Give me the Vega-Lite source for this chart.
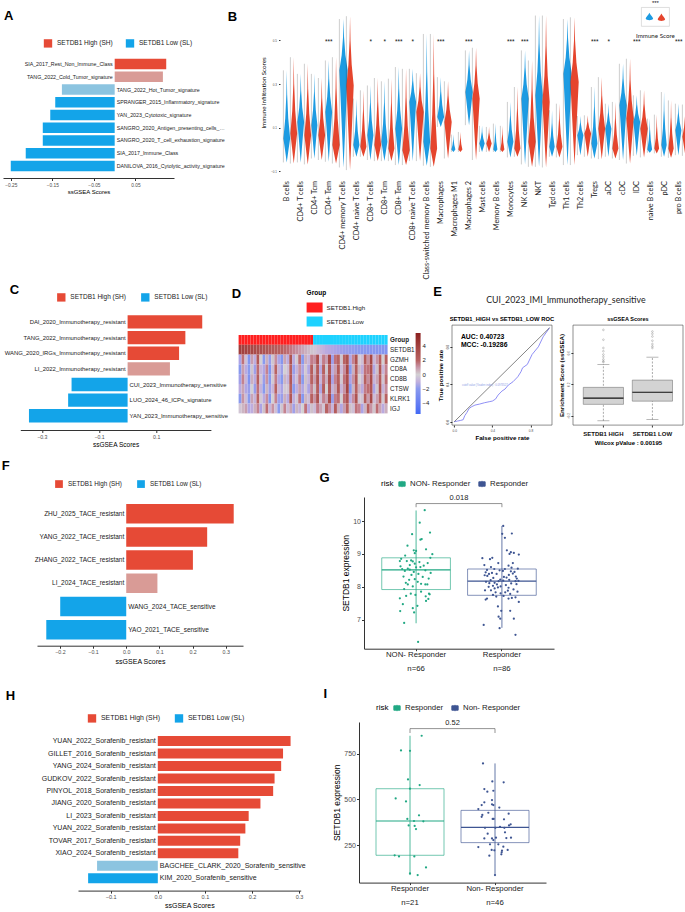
{
"$schema": "https://vega.github.io/schema/vega-lite/v6.json",
"padding": {"left": 0, "top": 0, "right": 0, "bottom": 0},
"background": "white",
"config": {
  "font": "Liberation Sans",
  "view": {"stroke": null},
  "title": {"fontSize": 13, "fontWeight": "bold", "anchor": "start", "frame": "bounds", "color": "#000", "offset": 4},
  "axis": {"labelColor": "#4D4D4D", "titleColor": "#000", "domainColor": "#333", "tickColor": "#333", "grid": false, "titleFontWeight": "normal"},
  "legend": {"labelColor": "#1a1a1a"}
},
"datasets": {
  "A": [
    {"r":1,"name":"SIA_2017_Rest_Non_Immune_Class","score":0.124,"grp":"SETDB1 High (SH)"},
    {"r":2,"name":"TANG_2022_Cold_Tumor_signature","score":0.116,"grp":"High ns"},
    {"r":3,"name":"TANG_2022_Hot_Tumor_signature","score":-0.127,"grp":"Low ns"},
    {"r":4,"name":"SPRANGER_2015_Inflammatory_signature","score":-0.143,"grp":"SETDB1 Low (SL)"},
    {"r":5,"name":"YAN_2023_Cytotoxic_signature","score":-0.155,"grp":"SETDB1 Low (SL)"},
    {"r":6,"name":"SANGRO_2020_Antigen_presenting_cells_signature","score":-0.173,"grp":"SETDB1 Low (SL)"},
    {"r":7,"name":"SANGRO_2020_T_cell_exhaustion_signature","score":-0.173,"grp":"SETDB1 Low (SL)"},
    {"r":8,"name":"SIA_2017_Immune_Class","score":-0.214,"grp":"SETDB1 Low (SL)"},
    {"r":9,"name":"DANILOVA_2016_Cytolytic_activity_signature","score":-0.25,"grp":"SETDB1 Low (SL)"}
  ],
  "C": [
    {"r":1,"name":"DAI_2020_Immunotherapy_resistant","score":0.261,"grp":"SETDB1 High (SH)"},
    {"r":2,"name":"TANG_2022_Immunotherapy_resistant","score":0.202,"grp":"SETDB1 High (SH)"},
    {"r":3,"name":"WANG_2020_IRGs_Immunotherapy_resistant","score":0.18,"grp":"SETDB1 High (SH)"},
    {"r":4,"name":"LI_2022_Immunotherapy_resistant","score":0.148,"grp":"High ns"},
    {"r":5,"name":"CUI_2023_Immunotherapy_sensitive","score":-0.196,"grp":"SETDB1 Low (SL)"},
    {"r":6,"name":"LUO_2024_46_ICPs_signature","score":-0.208,"grp":"SETDB1 Low (SL)"},
    {"r":7,"name":"YAN_2023_Immunotherapy_sensitive","score":-0.345,"grp":"SETDB1 Low (SL)"}
  ],
  "F": [
    {"r":1,"name":"ZHU_2025_TACE_resistant","score":0.324,"grp":"SETDB1 High (SH)"},
    {"r":2,"name":"YANG_2022_TACE_resistant","score":0.244,"grp":"SETDB1 High (SH)"},
    {"r":3,"name":"ZHANG_2022_TACE_resistant","score":0.201,"grp":"SETDB1 High (SH)"},
    {"r":4,"name":"LI_2024_TACE_resistant","score":0.094,"grp":"High ns"},
    {"r":5,"name":"WANG_2024_TACE_sensitive","score":-0.199,"grp":"SETDB1 Low (SL)"},
    {"r":6,"name":"YAO_2021_TACE_sensitive","score":-0.241,"grp":"SETDB1 Low (SL)"}
  ],
  "H": [
    {"r":1,"name":"YUAN_2022_Sorafenib_resistant","score":0.282,"grp":"SETDB1 High (SH)"},
    {"r":2,"name":"GILLET_2016_Sorafenib_resistant","score":0.266,"grp":"SETDB1 High (SH)"},
    {"r":3,"name":"YANG_2024_Sorafenib_resistant","score":0.262,"grp":"SETDB1 High (SH)"},
    {"r":4,"name":"GUDKOV_2022_Sorafenib_resistant","score":0.248,"grp":"SETDB1 High (SH)"},
    {"r":5,"name":"PINYOL_2018_Sorafenib_resistant","score":0.245,"grp":"SETDB1 High (SH)"},
    {"r":6,"name":"JIANG_2020_Sorafenib_resistant","score":0.218,"grp":"SETDB1 High (SH)"},
    {"r":7,"name":"LI_2023_Sorafenib_resistant","score":0.193,"grp":"SETDB1 High (SH)"},
    {"r":8,"name":"YUAN_2022_Sorafenib_resistant","score":0.186,"grp":"SETDB1 High (SH)"},
    {"r":9,"name":"TOVAR_2017_Sorafenib_resistant","score":0.175,"grp":"SETDB1 High (SH)"},
    {"r":10,"name":"XIAO_2024_Sorafenib_resistant","score":0.171,"grp":"SETDB1 High (SH)"},
    {"r":11,"name":"BAGCHEE_CLARK_2020_Sorafenib_sensitive","score":-0.129,"grp":"Low ns"},
    {"r":12,"name":"KIM_2020_Sorafenib_sensitive","score":-0.148,"grp":"SETDB1 Low (SL)"}
  ],
  "B": [
    {"k":"01|a|B cells","g":"Low","v":[-0.059,-0.005,0.05,0.143,0.252,0.361],"d":[0,3.3,6.7,3,0.8,0]},
    {"k":"01|b|B cells","g":"High","v":[-0.064,0.005,0.073,0.177,0.299,0.421],"d":[0,3.3,6.7,3,0.8,0]},
    {"k":"02|a|CD4+ T cells","g":"Low","v":[-0.059,0.034,0.126,0.192,0.268,0.345],"d":[0,3.3,6.7,3,0.8,0]},
    {"k":"02|b|CD4+ T cells","g":"High","v":[-0.068,-0.002,0.065,0.163,0.277,0.391],"d":[0,3.3,6.7,3,0.8,0]},
    {"k":"03|a|CD4+ Tcm","g":"Low","v":[-0.041,0.035,0.111,0.181,0.263,0.345],"d":[0,3,6,2.7,0.7,0]},
    {"k":"03|b|CD4+ Tcm","g":"High","v":[-0.048,0.009,0.065,0.143,0.235,0.326],"d":[0,3.3,6.7,3,0.8,0]},
    {"k":"04|a|CD4+ Tem","g":"Low","v":[-0.056,0.058,0.171,0.242,0.324,0.406],"d":[0,3.3,6.7,3,0.8,0],"s":"***"},
    {"k":"04|b|CD4+ Tem","g":"High","v":[-0.064,-0.022,0.02,0.14,0.281,0.421],"d":[0,3.7,7.3,3.3,0.9,0]},
    {"k":"05|a|CD4+ memory T cells","g":"Low","v":[-0.082,0.14,0.361,0.431,0.513,0.595],"d":[0,4.2,8.3,3.7,1,0]},
    {"k":"05|b|CD4+ memory T cells","g":"High","v":[-0.094,0.099,0.292,0.387,0.497,0.608],"d":[0,3.7,7.3,3.3,0.9,0]},
    {"k":"06|a|CD4+ naive T cells","g":"Low","v":[-0.033,-0.007,0.02,0.084,0.158,0.232],"d":[0,3,6,2.7,0.7,0]},
    {"k":"06|b|CD4+ naive T cells","g":"High","v":[-0.033,-0.011,0.012,0.089,0.18,0.27],"d":[0,3,6,2.7,0.7,0]},
    {"k":"07|a|CD8+ T cells","g":"Low","v":[-0.048,0.009,0.065,0.133,0.213,0.292],"d":[0,3,6,2.7,0.7,0],"s":"*"},
    {"k":"07|b|CD8+ T cells","g":"High","v":[-0.053,-0.017,0.02,0.112,0.219,0.326],"d":[0,3.3,6.7,3,0.8,0]},
    {"k":"08|a|CD8+ Tcm","g":"Low","v":[-0.053,-0.009,0.035,0.118,0.214,0.311],"d":[0,3,6,2.7,0.7,0],"s":"*"},
    {"k":"08|b|CD8+ Tcm","g":"High","v":[-0.053,-0.024,0.005,0.1,0.212,0.323],"d":[0,3,6,2.7,0.7,0]},
    {"k":"09|a|CD8+ Tem","g":"Low","v":[-0.071,0.012,0.095,0.179,0.278,0.376],"d":[0,3.3,6.7,3,0.8,0],"s":"***"},
    {"k":"09|b|CD8+ Tem","g":"High","v":[-0.071,-0.037,-0.003,0.108,0.238,0.368],"d":[0,3.7,7.3,3.3,0.9,0]},
    {"k":"10|a|CD8+ naive T cells","g":"Low","v":[-0.053,0.082,0.217,0.262,0.315,0.368],"d":[0,3.3,6.7,3,0.8,0],"s":"*"},
    {"k":"10|b|CD8+ naive T cells","g":"High","v":[-0.053,0.059,0.171,0.224,0.286,0.348],"d":[0,3.7,7.3,3.3,0.9,0]},
    {"k":"11|a|Class-switched memory B cells","g":"Low","v":[-0.074,-0.02,0.035,0.183,0.354,0.527],"d":[0,3.3,6.7,3,0.8,0]},
    {"k":"11|b|Class-switched memory B cells","g":"High","v":[-0.079,-0.037,0.005,0.162,0.344,0.527],"d":[0,3.3,6.7,3,0.8,0]},
    {"k":"12|a|Macrophages","g":"Low","v":[0.103,0.126,0.148,0.203,0.266,0.33],"d":[0,3.3,6.7,3,0.8,0],"s":"***"},
    {"k":"12|b|Macrophages","g":"High","v":[-0.041,0.043,0.126,0.182,0.246,0.311],"d":[0,3.7,7.3,3.3,0.9,0]},
    {"k":"13|a|Macrophages M1","g":"Low","v":[-0.011,-0.006,0,0.02,0.044,0.068],"d":[0,2,4,1.8,0.5,0]},
    {"k":"13|b|Macrophages M1","g":"High","v":[-0.011,-0.006,0,0.024,0.052,0.08],"d":[0,2,4,1.8,0.5,0]},
    {"k":"14|a|Macrophages 2","g":"Low","v":[0.111,0.187,0.262,0.319,0.386,0.452],"d":[0,3.7,7.3,3.3,0.9,0],"s":"***"},
    {"k":"14|b|Macrophages 2","g":"High","v":[-0.048,0.092,0.232,0.302,0.383,0.464],"d":[0,3.7,7.3,3.3,0.9,0]},
    {"k":"15|a|Mast cells","g":"Low","v":[-0.011,0.008,0.027,0.051,0.08,0.108],"d":[0,2.7,5.3,2.4,0.6,0]},
    {"k":"15|b|Mast cells","g":"High","v":[-0.011,0.008,0.027,0.05,0.076,0.103],"d":[0,2.7,5.3,2.4,0.6,0]},
    {"k":"16|a|Memory B cells","g":"Low","v":[-0.011,-0.006,0,0.035,0.077,0.118],"d":[0,2,4,1.8,0.5,0]},
    {"k":"16|b|Memory B cells","g":"High","v":[-0.011,-0.006,0,0.032,0.07,0.108],"d":[0,2,4,1.8,0.5,0]},
    {"k":"17|a|Monocytes","g":"Low","v":[-0.036,0,0.035,0.09,0.153,0.217],"d":[0,3,6,2.7,0.7,0],"s":"***"},
    {"k":"17|b|Monocytes","g":"High","v":[-0.033,-0.014,0.005,0.089,0.187,0.285],"d":[0,3,6,2.7,0.7,0]},
    {"k":"18|a|NK cells","g":"Low","v":[-0.068,0.082,0.232,0.298,0.375,0.452],"d":[0,3.7,7.3,3.3,0.9,0],"s":"***"},
    {"k":"18|b|NK cells","g":"High","v":[-0.079,-0.022,0.035,0.146,0.276,0.406],"d":[0,3.7,7.3,3.3,0.9,0]},
    {"k":"19|a|NKT","g":"Low","v":[-0.079,0.084,0.247,0.356,0.484,0.611],"d":[0,3.7,7.3,3.3,0.9,0]},
    {"k":"19|b|NKT","g":"High","v":[-0.082,0.068,0.217,0.335,0.473,0.611],"d":[0,3.7,7.3,3.3,0.9,0]},
    {"k":"20|a|Tgd cells","g":"Low","v":[-0.033,-0.011,0.012,0.062,0.121,0.179],"d":[0,2.7,5.3,2.4,0.6,0]},
    {"k":"20|b|Tgd cells","g":"High","v":[-0.036,-0.012,0.012,0.071,0.14,0.209],"d":[0,3,6,2.7,0.7,0]},
    {"k":"21|a|Th1 cells","g":"Low","v":[-0.071,0.137,0.345,0.42,0.508,0.595],"d":[0,4.2,8.3,3.7,1,0]},
    {"k":"21|b|Th1 cells","g":"High","v":[-0.071,0.119,0.308,0.397,0.5,0.603],"d":[0,4.2,8.3,3.7,1,0]},
    {"k":"22|a|Th2 cells","g":"Low","v":[-0.026,0.02,0.065,0.091,0.122,0.153],"d":[0,3,6,2.7,0.7,0]},
    {"k":"22|b|Th2 cells","g":"High","v":[-0.033,0.02,0.073,0.098,0.127,0.156],"d":[0,3.3,6.7,3,0.8,0]},
    {"k":"23|a|Tregs","g":"Low","v":[-0.041,-0.007,0.027,0.104,0.195,0.285],"d":[0,3,6,2.7,0.7,0],"s":"***"},
    {"k":"23|b|Tregs","g":"High","v":[-0.044,0.026,0.095,0.166,0.248,0.33],"d":[0,3.3,6.7,3,0.8,0]},
    {"k":"24|a|aDC","g":"Low","v":[-0.033,0.031,0.095,0.129,0.169,0.209],"d":[0,3,6,2.7,0.7,0],"s":"*"},
    {"k":"24|b|aDC","g":"High","v":[-0.041,-0.018,0.005,0.069,0.143,0.217],"d":[0,3,6,2.7,0.7,0]},
    {"k":"25|a|cDC","g":"Low","v":[-0.048,0.077,0.202,0.259,0.325,0.391],"d":[0,3.7,7.3,3.3,0.9,0]},
    {"k":"25|b|cDC","g":"High","v":[-0.064,0.039,0.141,0.223,0.318,0.414],"d":[0,3.7,7.3,3.3,0.9,0]},
    {"k":"26|a|lDC","g":"Low","v":[-0.029,0.049,0.126,0.162,0.205,0.247],"d":[0,3.3,6.7,3,0.8,0],"s":"***"},
    {"k":"26|b|lDC","g":"High","v":[-0.036,0.03,0.095,0.148,0.209,0.27],"d":[0,3.7,7.3,3.3,0.9,0]},
    {"k":"27|a|naive B cells","g":"Low","v":[-0.015,-0.008,0,0.042,0.092,0.141],"d":[0,2.4,4.7,2.1,0.6,0]},
    {"k":"27|b|naive B cells","g":"High","v":[-0.018,-0.007,0.005,0.051,0.105,0.159],"d":[0,2.4,4.7,2.1,0.6,0]},
    {"k":"28|a|pDC","g":"Low","v":[-0.033,-0.007,0.02,0.093,0.177,0.262],"d":[0,2.7,5.3,2.4,0.6,0],"ins":1},
    {"k":"28|b|pDC","g":"High","v":[-0.038,-0.017,0.005,0.071,0.147,0.224],"d":[0,2.7,5.3,2.4,0.6,0]},
    {"k":"29|a|pro B cells","g":"Low","v":[-0.026,0.031,0.088,0.124,0.167,0.209],"d":[0,3,6,2.7,0.7,0],"s":"***"},
    {"k":"29|b|pro B cells","g":"High","v":[-0.029,0.015,0.058,0.102,0.154,0.205],"d":[0,3,6,2.7,0.7,0]}
  ],
  "D": [
    {"s":1,"g":"SETDB1.High","SETDB1":4.2,"GZMH":-1.5,"CD8A":-2.1,"CD8B":-1.7,"CTSW":-1.2,"KLRK1":-2.0,"IGJ":-0.3},
    {"s":2,"g":"SETDB1.High","SETDB1":4.0,"GZMH":1.7,"CD8A":0.9,"CD8B":1.4,"CTSW":0.8,"KLRK1":1.1,"IGJ":0.5},
    {"s":3,"g":"SETDB1.High","SETDB1":3.9,"GZMH":-0.5,"CD8A":-1.2,"CD8B":-0.8,"CTSW":-1.4,"KLRK1":-0.6,"IGJ":0.9},
    {"s":4,"g":"SETDB1.High","SETDB1":3.7,"GZMH":-2.4,"CD8A":-2.0,"CD8B":-2.6,"CTSW":-1.8,"KLRK1":-2.1,"IGJ":-1.4},
    {"s":5,"g":"SETDB1.High","SETDB1":3.6,"GZMH":0.9,"CD8A":0.2,"CD8B":0.6,"CTSW":0.0,"KLRK1":0.8,"IGJ":-1.1},
    {"s":6,"g":"SETDB1.High","SETDB1":3.4,"GZMH":-1.1,"CD8A":-1.7,"CD8B":-1.2,"CTSW":-1.8,"KLRK1":-0.9,"IGJ":0.6},
    {"s":7,"g":"SETDB1.High","SETDB1":3.3,"GZMH":2.6,"CD8A":1.8,"CD8B":2.3,"CTSW":1.7,"KLRK1":2.0,"IGJ":1.4},
    {"s":8,"g":"SETDB1.High","SETDB1":3.1,"GZMH":0.0,"CD8A":-0.8,"CD8B":-0.3,"CTSW":-0.9,"KLRK1":-0.2,"IGJ":-1.5},
    {"s":9,"g":"SETDB1.High","SETDB1":3.0,"GZMH":-2.0,"CD8A":-1.4,"CD8B":-1.8,"CTSW":-2.1,"KLRK1":-1.2,"IGJ":0.3},
    {"s":10,"g":"SETDB1.High","SETDB1":2.8,"GZMH":0.6,"CD8A":1.4,"CD8B":1.1,"CTSW":0.5,"KLRK1":1.2,"IGJ":1.8},
    {"s":11,"g":"SETDB1.High","SETDB1":2.7,"GZMH":-1.8,"CD8A":-2.4,"CD8B":-2.0,"CTSW":-1.7,"KLRK1":-2.3,"IGJ":-0.8},
    {"s":12,"g":"SETDB1.High","SETDB1":2.5,"GZMH":0.2,"CD8A":-0.6,"CD8B":-0.2,"CTSW":-0.8,"KLRK1":0.0,"IGJ":1.1},
    {"s":13,"g":"SETDB1.High","SETDB1":2.4,"GZMH":1.2,"CD8A":2.0,"CD8B":1.5,"CTSW":2.1,"KLRK1":1.4,"IGJ":-0.5},
    {"s":14,"g":"SETDB1.High","SETDB1":2.2,"GZMH":-1.5,"CD8A":-0.9,"CD8B":-1.4,"CTSW":-0.8,"KLRK1":-1.7,"IGJ":-2.0},
    {"s":15,"g":"SETDB1.High","SETDB1":2.1,"GZMH":-2.3,"CD8A":-1.7,"CD8B":-2.1,"CTSW":-1.5,"KLRK1":-1.8,"IGJ":0.2},
    {"s":16,"g":"SETDB1.High","SETDB1":1.9,"GZMH":0.8,"CD8A":0.0,"CD8B":0.5,"CTSW":-0.2,"KLRK1":0.6,"IGJ":1.4},
    {"s":17,"g":"SETDB1.High","SETDB1":1.8,"GZMH":-1.1,"CD8A":-0.5,"CD8B":-0.9,"CTSW":-0.3,"KLRK1":-1.2,"IGJ":-0.6},
    {"s":18,"g":"SETDB1.High","SETDB1":1.6,"GZMH":2.9,"CD8A":2.1,"CD8B":2.6,"CTSW":2.0,"KLRK1":2.7,"IGJ":0.8},
    {"s":19,"g":"SETDB1.High","SETDB1":1.4,"GZMH":-1.2,"CD8A":-1.8,"CD8B":-1.4,"CTSW":-2.0,"KLRK1":-1.1,"IGJ":-1.7},
    {"s":20,"g":"SETDB1.High","SETDB1":1.2,"GZMH":-0.2,"CD8A":-0.9,"CD8B":-0.5,"CTSW":-1.1,"KLRK1":-0.3,"IGJ":0.5},
    {"s":21,"g":"SETDB1.High","SETDB1":1.0,"GZMH":1.8,"CD8A":1.1,"CD8B":1.5,"CTSW":0.9,"KLRK1":1.7,"IGJ":-0.9},
    {"s":22,"g":"SETDB1.High","SETDB1":0.8,"GZMH":-2.1,"CD8A":-1.5,"CD8B":-2.0,"CTSW":-1.4,"KLRK1":-2.3,"IGJ":0.0},
    {"s":23,"g":"SETDB1.High","SETDB1":0.6,"GZMH":0.6,"CD8A":-0.2,"CD8B":0.3,"CTSW":-0.3,"KLRK1":0.5,"IGJ":1.7},
    {"s":24,"g":"SETDB1.High","SETDB1":0.4,"GZMH":-0.8,"CD8A":-1.4,"CD8B":-0.9,"CTSW":-1.5,"KLRK1":-0.6,"IGJ":-1.2},
    {"s":25,"g":"SETDB1.High","SETDB1":0.2,"GZMH":1.5,"CD8A":2.3,"CD8B":2.0,"CTSW":1.4,"KLRK1":2.1,"IGJ":0.3},
    {"s":26,"g":"SETDB1.Low","SETDB1":-0.3,"GZMH":1.2,"CD8A":0.5,"CD8B":0.9,"CTSW":0.3,"KLRK1":1.1,"IGJ":-0.6},
    {"s":27,"g":"SETDB1.Low","SETDB1":-0.6,"GZMH":3.2,"CD8A":2.4,"CD8B":2.9,"CTSW":2.3,"KLRK1":3.0,"IGJ":1.5},
    {"s":28,"g":"SETDB1.Low","SETDB1":-0.8,"GZMH":-0.6,"CD8A":-1.2,"CD8B":-0.8,"CTSW":-1.4,"KLRK1":-0.5,"IGJ":0.8},
    {"s":29,"g":"SETDB1.Low","SETDB1":-1.0,"GZMH":1.5,"CD8A":2.1,"CD8B":1.7,"CTSW":2.3,"KLRK1":1.4,"IGJ":-0.3},
    {"s":30,"g":"SETDB1.Low","SETDB1":-1.2,"GZMH":0.9,"CD8A":0.2,"CD8B":0.6,"CTSW":0.0,"KLRK1":0.8,"IGJ":2.0},
    {"s":31,"g":"SETDB1.Low","SETDB1":-1.3,"GZMH":3.5,"CD8A":2.7,"CD8B":3.2,"CTSW":2.6,"KLRK1":3.3,"IGJ":1.2},
    {"s":32,"g":"SETDB1.Low","SETDB1":-1.4,"GZMH":-1.7,"CD8A":-1.1,"CD8B":-1.5,"CTSW":-0.9,"KLRK1":-1.8,"IGJ":-0.8},
    {"s":33,"g":"SETDB1.Low","SETDB1":-1.5,"GZMH":1.7,"CD8A":0.9,"CD8B":1.4,"CTSW":0.8,"KLRK1":1.5,"IGJ":2.4},
    {"s":34,"g":"SETDB1.Low","SETDB1":-1.6,"GZMH":2.0,"CD8A":2.6,"CD8B":2.1,"CTSW":2.7,"KLRK1":1.8,"IGJ":0.6},
    {"s":35,"g":"SETDB1.Low","SETDB1":-1.7,"GZMH":0.2,"CD8A":-0.6,"CD8B":-0.2,"CTSW":-0.8,"KLRK1":0.0,"IGJ":-1.4},
    {"s":36,"g":"SETDB1.Low","SETDB1":-1.8,"GZMH":2.0,"CD8A":1.2,"CD8B":1.7,"CTSW":1.1,"KLRK1":1.8,"IGJ":0.9},
    {"s":37,"g":"SETDB1.Low","SETDB1":-1.8,"GZMH":3.0,"CD8A":3.6,"CD8B":3.2,"CTSW":3.8,"KLRK1":2.9,"IGJ":2.1},
    {"s":38,"g":"SETDB1.Low","SETDB1":-1.9,"GZMH":-1.4,"CD8A":-2.0,"CD8B":-1.5,"CTSW":-2.1,"KLRK1":-1.2,"IGJ":0.3},
    {"s":39,"g":"SETDB1.Low","SETDB1":-1.9,"GZMH":1.4,"CD8A":0.6,"CD8B":1.1,"CTSW":0.5,"KLRK1":1.2,"IGJ":-0.5},
    {"s":40,"g":"SETDB1.Low","SETDB1":-2.0,"GZMH":3.0,"CD8A":2.3,"CD8B":2.7,"CTSW":2.1,"KLRK1":2.9,"IGJ":1.7},
    {"s":41,"g":"SETDB1.Low","SETDB1":-2.0,"GZMH":-0.2,"CD8A":0.5,"CD8B":0.0,"CTSW":0.6,"KLRK1":-0.3,"IGJ":1.4},
    {"s":42,"g":"SETDB1.Low","SETDB1":-2.1,"GZMH":-0.5,"CD8A":-1.1,"CD8B":-0.6,"CTSW":-1.2,"KLRK1":-0.3,"IGJ":-1.5},
    {"s":43,"g":"SETDB1.Low","SETDB1":-2.1,"GZMH":2.4,"CD8A":1.7,"CD8B":2.1,"CTSW":1.5,"KLRK1":2.3,"IGJ":0.5},
    {"s":44,"g":"SETDB1.Low","SETDB1":-2.2,"GZMH":1.1,"CD8A":1.7,"CD8B":1.2,"CTSW":1.8,"KLRK1":0.9,"IGJ":2.3},
    {"s":45,"g":"SETDB1.Low","SETDB1":-2.2,"GZMH":3.6,"CD8A":2.9,"CD8B":3.3,"CTSW":2.7,"KLRK1":3.5,"IGJ":1.1},
    {"s":46,"g":"SETDB1.Low","SETDB1":-2.2,"GZMH":-0.8,"CD8A":-1.4,"CD8B":-0.9,"CTSW":-1.5,"KLRK1":-0.6,"IGJ":0.2},
    {"s":47,"g":"SETDB1.Low","SETDB1":-2.3,"GZMH":1.1,"CD8A":0.3,"CD8B":0.8,"CTSW":0.2,"KLRK1":0.9,"IGJ":1.8},
    {"s":48,"g":"SETDB1.Low","SETDB1":-2.3,"GZMH":2.1,"CD8A":2.7,"CD8B":2.3,"CTSW":2.9,"KLRK1":2.0,"IGJ":0.8},
    {"s":49,"g":"SETDB1.Low","SETDB1":-2.3,"GZMH":0.0,"CD8A":-0.8,"CD8B":-0.3,"CTSW":-0.9,"KLRK1":-0.2,"IGJ":-1.2},
    {"s":50,"g":"SETDB1.Low","SETDB1":-2.4,"GZMH":2.1,"CD8A":1.4,"CD8B":1.8,"CTSW":1.2,"KLRK1":2.0,"IGJ":0.6}
  ],
  "roc": [
    {"fpr":0,"tpr":0},{"fpr":0.033,"tpr":0.007},{"fpr":0.067,"tpr":0.014},{"fpr":0.093,"tpr":0.021},
    {"fpr":0.11,"tpr":0.064},{"fpr":0.133,"tpr":0.099},{"fpr":0.157,"tpr":0.142},{"fpr":0.183,"tpr":0.16},
    {"fpr":0.217,"tpr":0.177},{"fpr":0.267,"tpr":0.188},{"fpr":0.317,"tpr":0.202},{"fpr":0.367,"tpr":0.213},
    {"fpr":0.4,"tpr":0.22},{"fpr":0.433,"tpr":0.241},{"fpr":0.46,"tpr":0.284},{"fpr":0.5,"tpr":0.326},
    {"fpr":0.533,"tpr":0.348},{"fpr":0.567,"tpr":0.39},{"fpr":0.617,"tpr":0.426},{"fpr":0.667,"tpr":0.479},
    {"fpr":0.7,"tpr":0.532},{"fpr":0.717,"tpr":0.574},{"fpr":0.767,"tpr":0.61},{"fpr":0.817,"tpr":0.716},
    {"fpr":0.883,"tpr":0.798},{"fpr":0.933,"tpr":0.904},{"fpr":1,"tpr":1}
  ],
  "eBox": [
    {"c":"SETDB1 HIGH","lo":-0.267,"q1":-0.058,"med":0.021,"q3":0.158,"hi":0.45},
    {"c":"SETDB1 LOW","lo":-0.25,"q1":-0.017,"med":0.096,"q3":0.25,"hi":0.542}
  ],
  "eOut": [
    {"c":"SETDB1 HIGH","v":0.888},{"c":"SETDB1 HIGH","v":0.763},{"c":"SETDB1 HIGH","v":0.658},{"c":"SETDB1 HIGH","v":0.617},
    {"c":"SETDB1 HIGH","v":0.575},{"c":"SETDB1 HIGH","v":0.546},{"c":"SETDB1 HIGH","v":0.513},{"c":"SETDB1 HIGH","v":0.49},
    {"c":"SETDB1 HIGH","v":0.479},
    {"c":"SETDB1 LOW","v":0.867},{"c":"SETDB1 LOW","v":0.838},{"c":"SETDB1 LOW","v":0.804},{"c":"SETDB1 LOW","v":0.75},
    {"c":"SETDB1 LOW","v":0.708},{"c":"SETDB1 LOW","v":0.679},{"c":"SETDB1 LOW","v":0.658}
  ],
  "gBox": [
    {"c":"NON- Responder","lo":6.89,"q1":7.915,"med":8.515,"q3":8.88,"hi":10.32},
    {"c":"Responder","lo":6.75,"q1":7.74,"med":8.17,"q3":8.54,"hi":9.85}
  ],
  "gPts": [
    {"c":"NON- Responder","v":10.33,"j":26},{"c":"NON- Responder","v":9.95,"j":11},{"c":"NON- Responder","v":9.6,"j":-12},
    {"c":"NON- Responder","v":9.65,"j":42},{"c":"NON- Responder","v":9.45,"j":17},{"c":"NON- Responder","v":9.43,"j":13},
    {"c":"NON- Responder","v":9.25,"j":-26},{"c":"NON- Responder","v":9.11,"j":-7},{"c":"NON- Responder","v":9.09,"j":0},
    {"c":"NON- Responder","v":9.14,"j":30},{"c":"NON- Responder","v":9.02,"j":-4},{"c":"NON- Responder","v":8.99,"j":49},
    {"c":"NON- Responder","v":8.88,"j":43},{"c":"NON- Responder","v":8.78,"j":-28},{"c":"NON- Responder","v":8.78,"j":-49},
    {"c":"NON- Responder","v":8.8,"j":-15},{"c":"NON- Responder","v":8.77,"j":-10},{"c":"NON- Responder","v":8.75,"j":10},
    {"c":"NON- Responder","v":8.7,"j":-4},{"c":"NON- Responder","v":8.66,"j":-19},{"c":"NON- Responder","v":8.6,"j":13},
    {"c":"NON- Responder","v":8.64,"j":23},{"c":"NON- Responder","v":8.59,"j":0},{"c":"NON- Responder","v":8.54,"j":-42},
    {"c":"NON- Responder","v":8.52,"j":-19},{"c":"NON- Responder","v":8.5,"j":28},{"c":"NON- Responder","v":8.48,"j":-34},
    {"c":"NON- Responder","v":8.45,"j":-7},{"c":"NON- Responder","v":8.39,"j":7},{"c":"NON- Responder","v":8.31,"j":-38},
    {"c":"NON- Responder","v":8.21,"j":-21},{"c":"NON- Responder","v":8.23,"j":-4},{"c":"NON- Responder","v":8.3,"j":20},
    {"c":"NON- Responder","v":8.07,"j":-25},{"c":"NON- Responder","v":8.07,"j":28},{"c":"NON- Responder","v":8.07,"j":34},
    {"c":"NON- Responder","v":8.09,"j":15},{"c":"NON- Responder","v":8.01,"j":-10},{"c":"NON- Responder","v":7.93,"j":-36},
    {"c":"NON- Responder","v":7.85,"j":15},{"c":"NON- Responder","v":7.79,"j":39},{"c":"NON- Responder","v":7.77,"j":41},
    {"c":"NON- Responder","v":7.79,"j":-16},{"c":"NON- Responder","v":7.75,"j":-2},{"c":"NON- Responder","v":7.71,"j":29},
    {"c":"NON- Responder","v":7.72,"j":-30},{"c":"NON- Responder","v":7.65,"j":-49},{"c":"NON- Responder","v":7.63,"j":37},
    {"c":"NON- Responder","v":7.57,"j":30},{"c":"NON- Responder","v":7.47,"j":-40},{"c":"NON- Responder","v":7.42,"j":4},
    {"c":"NON- Responder","v":7.26,"j":-48},{"c":"NON- Responder","v":7.35,"j":-10},{"c":"NON- Responder","v":7.22,"j":-6},
    {"c":"NON- Responder","v":6.9,"j":-36},{"c":"NON- Responder","v":6.32,"j":6},{"c":"NON- Responder","v":8.85,"j":-45},
    {"c":"NON- Responder","v":8.72,"j":35},{"c":"NON- Responder","v":8.55,"j":-25},{"c":"NON- Responder","v":8.42,"j":44},
    {"c":"NON- Responder","v":8.36,"j":-14},{"c":"NON- Responder","v":8.15,"j":5},{"c":"NON- Responder","v":8.95,"j":-33},
    {"c":"NON- Responder","v":8.62,"j":-47},{"c":"NON- Responder","v":8.25,"j":38},{"c":"NON- Responder","v":8.12,"j":-31},
    {"c":"Responder","v":9.85,"j":4},{"c":"Responder","v":9.62,"j":30},{"c":"Responder","v":9.61,"j":1},
    {"c":"Responder","v":9.49,"j":9},{"c":"Responder","v":9.11,"j":15},{"c":"Responder","v":9.05,"j":27},
    {"c":"Responder","v":9.03,"j":36},{"c":"Responder","v":8.98,"j":51},{"c":"Responder","v":9.0,"j":23},
    {"c":"Responder","v":8.88,"j":-29},{"c":"Responder","v":8.87,"j":-59},{"c":"Responder","v":8.84,"j":-36},
    {"c":"Responder","v":8.72,"j":-11},{"c":"Responder","v":8.72,"j":33},{"c":"Responder","v":8.66,"j":-53},
    {"c":"Responder","v":8.64,"j":20},{"c":"Responder","v":8.58,"j":29},{"c":"Responder","v":8.54,"j":-23},
    {"c":"Responder","v":8.51,"j":-45},{"c":"Responder","v":8.54,"j":9},{"c":"Responder","v":8.5,"j":-7},
    {"c":"Responder","v":8.48,"j":3},{"c":"Responder","v":8.45,"j":38},{"c":"Responder","v":8.44,"j":-49},
    {"c":"Responder","v":8.39,"j":-39},{"c":"Responder","v":8.39,"j":-16},{"c":"Responder","v":8.36,"j":21},
    {"c":"Responder","v":8.31,"j":42},{"c":"Responder","v":8.27,"j":-26},{"c":"Responder","v":8.2,"j":-34},
    {"c":"Responder","v":8.25,"j":45},{"c":"Responder","v":8.21,"j":22},{"c":"Responder","v":8.19,"j":4},
    {"c":"Responder","v":8.17,"j":-10},{"c":"Responder","v":8.11,"j":-38},{"c":"Responder","v":8.17,"j":41},
    {"c":"Responder","v":8.07,"j":-15},{"c":"Responder","v":8.03,"j":-27},{"c":"Responder","v":8.01,"j":-4},
    {"c":"Responder","v":7.97,"j":20},{"c":"Responder","v":7.89,"j":-51},{"c":"Responder","v":7.89,"j":-33},
    {"c":"Responder","v":7.83,"j":-19},{"c":"Responder","v":7.8,"j":-4},{"c":"Responder","v":7.83,"j":10},
    {"c":"Responder","v":7.75,"j":-27},{"c":"Responder","v":7.64,"j":-45},{"c":"Responder","v":7.61,"j":-49},
    {"c":"Responder","v":7.7,"j":-17},{"c":"Responder","v":7.66,"j":30},{"c":"Responder","v":7.68,"j":41},
    {"c":"Responder","v":7.64,"j":20},{"c":"Responder","v":7.54,"j":51},{"c":"Responder","v":7.4,"j":-12},
    {"c":"Responder","v":7.27,"j":-2},{"c":"Responder","v":7.27,"j":25},{"c":"Responder","v":7.09,"j":-10},
    {"c":"Responder","v":7.03,"j":-5},{"c":"Responder","v":7.03,"j":36},{"c":"Responder","v":6.84,"j":-55},
    {"c":"Responder","v":6.74,"j":-7},{"c":"Responder","v":6.54,"j":41},{"c":"Responder","v":8.05,"j":12},
    {"c":"Responder","v":8.15,"j":-48},{"c":"Responder","v":8.3,"j":6},{"c":"Responder","v":8.42,"j":-30},
    {"c":"Responder","v":8.47,"j":27},{"c":"Responder","v":8.0,"j":-40},{"c":"Responder","v":7.92,"j":35},
    {"c":"Responder","v":7.85,"j":47},{"c":"Responder","v":8.1,"j":28},{"c":"Responder","v":8.22,"j":-5},
    {"c":"Responder","v":8.35,"j":-52},{"c":"Responder","v":8.55,"j":48},{"c":"Responder","v":7.95,"j":-22},
    {"c":"Responder","v":7.78,"j":25},{"c":"Responder","v":8.28,"j":14},{"c":"Responder","v":8.12,"j":-22},
    {"c":"Responder","v":8.4,"j":33},{"c":"Responder","v":7.72,"j":5},{"c":"Responder","v":8.6,"j":-33},
    {"c":"Responder","v":8.18,"j":50},{"c":"Responder","v":7.98,"j":-12},{"c":"Responder","v":8.33,"j":-44},
    {"c":"Responder","v":7.88,"j":18},{"c":"Responder","v":8.08,"j":44}
  ],
  "iBox": [
    {"c":"Responder","lo":87,"q1":195,"med":382,"q3":558,"hi":847},
    {"c":"Non- Responder","lo":87,"q1":264,"med":347,"q3":440,"hi":696}
  ],
  "iPts": [
    {"c":"Responder","v":847,"j":35},{"c":"Responder","v":767,"j":-27},{"c":"Responder","v":765,"j":0},
    {"c":"Responder","v":609,"j":-6},{"c":"Responder","v":578,"j":29},{"c":"Responder","v":558,"j":0},
    {"c":"Responder","v":505,"j":-43},{"c":"Responder","v":489,"j":-12},{"c":"Responder","v":393,"j":-8},
    {"c":"Responder","v":413,"j":27},{"c":"Responder","v":382,"j":12},{"c":"Responder","v":380,"j":40},
    {"c":"Responder","v":358,"j":-4},{"c":"Responder","v":355,"j":14},{"c":"Responder","v":338,"j":18},
    {"c":"Responder","v":195,"j":-46},{"c":"Responder","v":189,"j":-33},{"c":"Responder","v":189,"j":13},
    {"c":"Responder","v":129,"j":48},{"c":"Responder","v":96,"j":0},{"c":"Responder","v":87,"j":23},
    {"c":"Non- Responder","v":696,"j":-36},{"c":"Non- Responder","v":598,"j":-8},{"c":"Non- Responder","v":593,"j":26},
    {"c":"Non- Responder","v":556,"j":-32},{"c":"Non- Responder","v":542,"j":-23},{"c":"Non- Responder","v":547,"j":-5},
    {"c":"Non- Responder","v":496,"j":-9},{"c":"Non- Responder","v":484,"j":-32},{"c":"Non- Responder","v":469,"j":-40},
    {"c":"Non- Responder","v":473,"j":-9},{"c":"Non- Responder","v":469,"j":-5},{"c":"Non- Responder","v":455,"j":13},
    {"c":"Non- Responder","v":447,"j":-50},{"c":"Non- Responder","v":427,"j":-20},{"c":"Non- Responder","v":415,"j":-38},
    {"c":"Non- Responder","v":422,"j":41},{"c":"Non- Responder","v":405,"j":-40},{"c":"Non- Responder","v":393,"j":-7},
    {"c":"Non- Responder","v":393,"j":-4},{"c":"Non- Responder","v":391,"j":27},{"c":"Non- Responder","v":364,"j":47},
    {"c":"Non- Responder","v":358,"j":42},{"c":"Non- Responder","v":345,"j":-30},{"c":"Non- Responder","v":345,"j":1},
    {"c":"Non- Responder","v":345,"j":28},{"c":"Non- Responder","v":350,"j":15},{"c":"Non- Responder","v":313,"j":-22},
    {"c":"Non- Responder","v":320,"j":30},{"c":"Non- Responder","v":287,"j":-32},{"c":"Non- Responder","v":287,"j":-9},
    {"c":"Non- Responder","v":278,"j":-5},{"c":"Non- Responder","v":291,"j":3},{"c":"Non- Responder","v":289,"j":34},
    {"c":"Non- Responder","v":291,"j":48},{"c":"Non- Responder","v":255,"j":-15},{"c":"Non- Responder","v":255,"j":10},
    {"c":"Non- Responder","v":240,"j":-50},{"c":"Non- Responder","v":242,"j":25},{"c":"Non- Responder","v":224,"j":38},
    {"c":"Non- Responder","v":224,"j":-10},{"c":"Non- Responder","v":222,"j":-2},{"c":"Non- Responder","v":211,"j":20},
    {"c":"Non- Responder","v":220,"j":21},{"c":"Non- Responder","v":200,"j":19},{"c":"Non- Responder","v":193,"j":-17},
    {"c":"Non- Responder","v":87,"j":0}
  ]
},
"columns": 1, "align": "none", "spacing": 4,
"resolve": {"scale": {"color": "independent", "stroke": "independent"}, "legend": {"color": "independent", "stroke": "independent"}},
"concat": [
  {"columns": 3, "align": "none", "spacing": 2,
   "resolve": {"scale": {"color": "independent", "stroke": "independent"}, "legend": {"color": "independent", "stroke": "independent"}},
   "concat": [
    {"width": 1, "height": 1, "data": {"values": [{}]}, "mark": {"type": "rect", "opacity": 0}, "encoding": {}},
    {
      "title": {"text": "A", "dx": 1, "baseline": "top", "offset": 0, "dy": 16},
      "width": 171, "height": 171,
      "data": {"name": "A"},
      "encoding": {"y": {"field": "r", "type": "quantitative", "axis": null, "scale": {"domain": [-3.08, 9.55], "reverse": true, "nice": false, "zero": false}}},
      "layer": [
        {"mark": {"type": "bar", "orient": "horizontal", "size": 10.7},
         "encoding": {
           "x": {"field": "score", "type": "quantitative", "stack": null, "scale": {"domain": [-0.2687, 0.1427], "nice": false, "zero": false},
                 "axis": {"values": [-0.25,-0.2,-0.15,-0.1,-0.05,0,0.05,0.1], "format": ".2f", "labelFontSize": 4.8, "title": "ssGSEA Scores", "titleFontSize": 6, "tickSize": 2.5, "labelPadding": 1.5, "titlePadding": 2}},
           "color": {"field": "grp", "type": "nominal",
                     "scale": {"domain": ["SETDB1 High (SH)","SETDB1 Low (SL)","High ns","Low ns"], "range": ["#E64A36","#13A4E9","#D99B96","#8CC4E0"]},
                     "legend": {"orient": "none", "legendX": 40, "legendY": 31, "title": null, "values": ["SETDB1 High (SH)","SETDB1 Low (SL)"], "symbolType": "square", "symbolSize": 70, "labelFontSize": 6.5, "columnPadding": 12, "direction": "horizontal"}}
         }},
        {"transform": [{"filter": "datum.score >= 0"}], "mark": {"type": "text", "align": "right", "dx": -2, "fontSize": 5.3, "color": "#222"}, "encoding": {"x": {"datum": 0}, "text": {"field": "name"}}},
        {"transform": [{"filter": "datum.score < 0"}], "mark": {"type": "text", "align": "left", "dx": 2, "fontSize": 5.3, "color": "#222", "limit": 110, "ellipsis": ""}, "encoding": {"x": {"datum": 0}, "text": {"field": "name"}}}
      ]
    },
    {
      "title": {"text": "B", "orient": "left", "angle": 0, "anchor": "end", "frame": "group", "align": "right", "baseline": "top", "offset": 14, "dy": 4},
      "data": {"name": "B"},
      "spacing": 0,
      "bounds": "flush",
      "facet": {"column": {"field": "k", "type": "ordinal", "title": null,
        "header": {"labelOrient": "bottom", "labelAngle": -90, "labelAlign": "right", "labelBaseline": "top", "labelFont": "Lato", "labelFontSize": 7.3, "labelColor": "#222", "labelPadding": 3, "labelLimit": 0,
                   "labelExpr": "split(datum.value,'|')[1]=='a' ? split(datum.value,'|')[2] : ''"}}},
      "spec": {
        "width": 6.8, "height": 171,
        "layer": [
          {"transform": [{"flatten": ["v","d"]}],
           "mark": {"type": "area", "orient": "horizontal"},
           "encoding": {
             "y": {"field": "v", "type": "quantitative", "scale": {"domain": [-0.13, 0.65], "nice": false, "zero": false},
                   "axis": {"title": "Immune infiltration Scores", "values": [-0.1,0,0.1,0.2,0.3,0.4,0.5,0.6], "format": ".1f", "labelFontSize": 3, "titleFont": "Lato", "titleFontSize": 6.2, "domain": false, "tickSize": 1.5, "titlePadding": 4}},
             "x": {"field": "d", "type": "quantitative", "stack": "center", "impute": null, "scale": {"domain": [-3.4, 3.4], "nice": false, "zero": false}, "axis": null},
             "color": {"field": "g", "type": "nominal", "scale": {"domain": ["Low","High"], "range": ["#1D9BE2","#E5452D"]}, "legend": null}
           }},
          {"transform": [{"flatten": ["v","d"]}],
           "mark": {"type": "rule", "color": "#222", "strokeWidth": 0.5, "opacity": 0.45},
           "encoding": {"x": {"datum": 0}, "y": {"aggregate": "min", "field": "v", "type": "quantitative"}, "y2": {"aggregate": "max", "field": "v"}}},
          {"transform": [{"filter": "datum.s"}],
           "mark": {"type": "text", "fontSize": 6.5, "baseline": "middle", "color": "#111"},
           "encoding": {"x": {"datum": 3.4}, "y": {"datum": 0.49}, "text": {"field": "s"}}},
          {"transform": [{"filter": "datum.ins"}],
           "mark": {"type": "rect", "fill": "white", "stroke": "#C8C8C8", "strokeWidth": 0.6},
           "encoding": {"x": {"datum": -20}, "x2": {"datum": 8}, "y": {"datum": 0.562}, "y2": {"datum": 0.648}}},
          {"transform": [{"filter": "datum.ins"}],
           "mark": {"type": "point", "shape": "M0,-1C0.25,-0.3 1,0.2 1,0.55C1,0.85 0.4,1 0,1C-0.4,1 -1,0.85 -1,0.55C-1,0.2 -0.25,-0.3 0,-1Z", "size": 55, "filled": true, "color": "#1D9BE2", "opacity": 1},
           "encoding": {"x": {"datum": -12}, "y": {"datum": 0.607}}},
          {"transform": [{"filter": "datum.ins"}],
           "mark": {"type": "point", "shape": "M0,-1C0.25,-0.3 1,0.2 1,0.55C1,0.85 0.4,1 0,1C-0.4,1 -1,0.85 -1,0.55C-1,0.2 -0.25,-0.3 0,-1Z", "size": 55, "filled": true, "color": "#E5452D", "opacity": 1},
           "encoding": {"x": {"datum": 0}, "y": {"datum": 0.603}}},
          {"transform": [{"filter": "datum.ins"}],
           "mark": {"type": "text", "font": "Lato", "fontSize": 6.2, "color": "#222"},
           "encoding": {"x": {"datum": -6}, "y": {"datum": 0.52}, "text": {"value": "Immune Score"}}},
          {"transform": [{"filter": "datum.ins"}],
           "mark": {"type": "text", "fontSize": 6, "color": "#111"},
           "encoding": {"x": {"datum": -6}, "y": {"datum": 0.668}, "text": {"value": "***"}}}
        ]
      }
    }
  ]},
  {"columns": 1, "align": "none", "spacing": 12,
   "resolve": {"scale": {"color": "independent", "stroke": "independent"}, "legend": {"color": "independent", "stroke": "independent"}},
   "concat": [
    {"columns": 4, "align": "none", "spacing": 3.3,
     "resolve": {"scale": {"color": "independent", "stroke": "independent"}, "legend": {"color": "independent", "stroke": "independent"}},
     "concat": [
      {"width": 1, "height": 1, "data": {"values": [{}]}, "mark": {"type": "rect", "opacity": 0}, "encoding": {}},
      {
        "title": {"text": "C", "dx": 5, "baseline": "top", "offset": 0, "dy": 11},
        "width": 190.6, "height": 144,
        "data": {"name": "C"},
        "encoding": {"y": {"field": "r", "type": "quantitative", "axis": null, "scale": {"domain": [-0.98, 7.59], "reverse": true, "nice": false, "zero": false}}},
        "layer": [
          {"mark": {"type": "bar", "orient": "horizontal", "size": 13.3},
           "encoding": {
             "x": {"field": "score", "type": "quantitative", "stack": null, "scale": {"domain": [-0.3753, 0.2913], "nice": false, "zero": false},
                   "axis": {"values": [-0.3,-0.2,-0.1,0,0.1,0.2], "format": ".1f", "labelFontSize": 5.2, "title": "ssGSEA Scores", "titleFontSize": 6.5, "tickSize": 2.5, "labelPadding": 1.5, "titlePadding": 2}},
             "color": {"field": "grp", "type": "nominal",
                       "scale": {"domain": ["SETDB1 High (SH)","SETDB1 Low (SL)","High ns","Low ns"], "range": ["#E64A36","#13A4E9","#D99B96","#8CC4E0"]},
                       "legend": {"orient": "none", "legendX": 36, "legendY": 6, "title": null, "values": ["SETDB1 High (SH)","SETDB1 Low (SL)"], "symbolType": "square", "symbolSize": 70, "labelFontSize": 6.5, "columnPadding": 14, "direction": "horizontal"}}
           }},
          {"transform": [{"filter": "datum.score >= 0"}], "mark": {"type": "text", "align": "right", "dx": -2, "fontSize": 5.9, "color": "#222"}, "encoding": {"x": {"datum": 0}, "text": {"field": "name"}}},
          {"transform": [{"filter": "datum.score < 0"}], "mark": {"type": "text", "align": "left", "dx": 2, "fontSize": 5.9, "color": "#222"}, "encoding": {"x": {"datum": 0}, "text": {"field": "name"}}}
        ]
      },
      {
        "title": {"text": "D", "orient": "left", "angle": 0, "anchor": "end", "frame": "group", "align": "right", "baseline": "top", "offset": -12, "dy": 2},
        "width": 149, "height": 127.4,
        "data": {"name": "D"},
        "encoding": {"x": {"field": "s", "type": "ordinal", "axis": null, "scale": {"paddingInner": 0, "paddingOuter": 0}}},
        "layer": [
          {"mark": {"type": "rect"},
           "encoding": {
             "y": {"datum": "Group", "type": "nominal", "scale": {"domain": ["p1","p2","p3","p4","p5","Group","SETDB1","GZMH","CD8A","CD8B","CTSW","KLRK1","IGJ"], "paddingInner": 0, "paddingOuter": 0},
                   "axis": {"orient": "right", "title": null, "ticks": false, "domain": false, "labelFontSize": 6.3, "labelColor": "#222", "labelPadding": 2,
                            "labelExpr": "substring(datum.value,0,1)=='p' ? '' : datum.value",
                            "labelFontWeight": {"condition": {"test": "datum.value == 'Group'", "value": "bold"}, "value": "normal"}}},
             "color": {"field": "g", "type": "nominal", "scale": {"domain": ["SETDB1.High","SETDB1.Low"], "range": ["#FF1F1F","#1ED2FF"]},
                       "legend": {"orient": "none", "legendX": 68, "legendY": 4, "title": "Group", "direction": "vertical", "titleFontSize": 6.5, "titleFontWeight": "bold", "labelFontSize": 6.2, "symbolType": "M-1,-0.625H1V0.625H-1Z", "symbolSize": 256, "symbolStrokeWidth": 0, "rowPadding": 1, "titlePadding": 3}}
           }},
          {"transform": [{"fold": ["SETDB1","GZMH","CD8A","CD8B","CTSW","KLRK1","IGJ"], "as": ["gene","val"]}],
           "mark": {"type": "rect"},
           "encoding": {
             "y": {"field": "gene", "type": "nominal"},
             "color": {"field": "val", "type": "quantitative", "scale": {"domain": [-5.6, -2, 0, 2, 5.9], "range": ["#4169F5","#8A9AEE","#D3D0D3","#B86262","#8B1F1F"]},
                       "legend": {"orient": "none", "legendX": 177, "legendY": 47, "title": null, "direction": "vertical", "gradientLength": 81, "gradientThickness": 5, "values": [-4,-2,0,2,4], "labelFontSize": 6}}
           }}
        ],
        "resolve": {"scale": {"color": "independent"}}
      },
      {
        "title": {"text": "E", "orient": "left", "angle": 0, "anchor": "end", "frame": "bounds", "align": "right", "baseline": "top", "offset": -13},
        "columns": 1, "align": "none", "spacing": 1,
        "concat": [
          {"width": 228, "height": 28, "data": {"values": [{}]},
           "mark": {"type": "text", "font": "Lato", "fontSize": 8.8, "color": "#222"},
           "encoding": {"text": {"value": "CUI_2023_IMI_Immunotherapy_sensitive"}}},
          {"columns": 2, "align": "none", "spacing": 3, "concat": [
            {
              "title": {"text": "SETDB1_HIGH vs SETDB1_LOW ROC", "fontSize": 5.8, "fontWeight": "bold", "anchor": "middle", "frame": "group", "offset": 3},
              "width": 100, "height": 100,
              "view": {"stroke": "#444", "strokeWidth": 0.6},
              "layer": [
                {"data": {"name": "roc"}, "mark": {"type": "line", "color": "#7272F2", "strokeWidth": 0.8},
                 "encoding": {
                   "x": {"field": "fpr", "type": "quantitative", "scale": {"domain": [-0.025, 1.025], "nice": false, "zero": false},
                         "axis": {"values": [0,0.2,0.4,0.6,0.8,1], "format": ".1f", "labelFontSize": 3.2, "tickSize": 2, "domain": false, "title": "False positive rate", "titleFontSize": 6.2, "titleFontWeight": "bold", "titlePadding": 3, "labelPadding": 1}},
                   "y": {"field": "tpr", "type": "quantitative", "scale": {"domain": [-0.035, 1.03], "nice": false, "zero": false},
                         "axis": {"values": [0,0.2,0.4,0.6,0.8,1], "format": ".1f", "labelFontSize": 3.2, "labelAngle": -90, "labelAlign": "center", "labelBaseline": "bottom", "tickSize": 2, "domain": false, "title": "True positive rate", "titleFontSize": 6.2, "titleFontWeight": "bold", "titlePadding": 1, "labelPadding": 1}}
                 }},
                {"data": {"values": [{}]}, "mark": {"type": "rule", "color": "#333", "strokeWidth": 0.6},
                 "encoding": {"x": {"datum": 0}, "y": {"datum": 0}, "x2": {"datum": 1}, "y2": {"datum": 1}}},
                {"data": {"values": [{}]}, "mark": {"type": "text", "align": "left", "fontWeight": "bold", "fontSize": 6.8},
                 "encoding": {"x": {"datum": 0.07}, "y": {"datum": 0.9}, "text": {"value": "AUC: 0.40723"}}},
                {"data": {"values": [{}]}, "mark": {"type": "text", "align": "left", "fontWeight": "bold", "fontSize": 6.8},
                 "encoding": {"x": {"datum": 0.07}, "y": {"datum": 0.815}, "text": {"value": "MCC: -0.19286"}}},
                {"data": {"values": [{}]}, "mark": {"type": "text", "align": "left", "fontSize": 2.6, "color": "#8D9CE6"},
                 "encoding": {"x": {"datum": 0.08}, "y": {"datum": 0.383}, "text": {"value": "cutoff value (Youden index) : 0.0973527"}}}
              ]
            },
            {
              "title": {"text": "ssGSEA Scores", "fontSize": 5.5, "fontWeight": "bold", "anchor": "middle", "frame": "group", "offset": 3},
              "width": 110, "height": 100,
              "view": {"stroke": "#444", "strokeWidth": 0.6},
              "encoding": {"x": {"field": "c", "type": "nominal", "scale": {"domain": ["SETDB1 HIGH","SETDB1 LOW"], "paddingInner": 0, "paddingOuter": 0.122},
                                 "axis": {"labelAngle": 0, "labelFontSize": 6, "labelFontWeight": "bold", "labelColor": "#111", "tickSize": 2, "domain": false, "title": "Wilcox pValue : 0.00195", "titleFontSize": 6, "titleFontWeight": "bold", "titlePadding": 3, "labelPadding": 3}}},
              "layer": [
                {"data": {"name": "eBox"}, "mark": {"type": "rule", "strokeDash": [2, 1.5], "color": "#555", "strokeWidth": 0.5},
                 "encoding": {"y": {"field": "lo", "type": "quantitative", "scale": {"domain": [-0.32, 0.95], "nice": false, "zero": false},
                                    "axis": {"values": [-0.2,0,0.2,0.4,0.6,0.8], "format": ".1f", "labelFontSize": 3, "labelAngle": -90, "labelAlign": "center", "labelBaseline": "bottom", "tickSize": 2, "domain": false, "title": "Enrichment Score (ssGSEA)", "titleFontSize": 6.2, "titleFontWeight": "bold", "titlePadding": 2, "labelPadding": 1}},
                              "y2": {"field": "hi"}}},
                {"data": {"name": "eBox"}, "mark": {"type": "tick", "color": "#555", "size": 12, "thickness": 0.6},
                 "encoding": {"y": {"field": "lo", "type": "quantitative"}}},
                {"data": {"name": "eBox"}, "mark": {"type": "tick", "color": "#555", "size": 12, "thickness": 0.6},
                 "encoding": {"y": {"field": "hi", "type": "quantitative"}}},
                {"data": {"name": "eBox"}, "mark": {"type": "bar", "width": {"band": 0.82}, "fill": "#D3D3D3", "stroke": "#7A7A7A", "strokeWidth": 0.6},
                 "encoding": {"y": {"field": "q1", "type": "quantitative"}, "y2": {"field": "q3"}}},
                {"data": {"name": "eBox"}, "mark": {"type": "bar", "width": {"band": 0.82}, "fill": "#111", "stroke": "#111", "strokeWidth": 1.2},
                 "encoding": {"y": {"field": "med", "type": "quantitative"}, "y2": {"field": "med"}}},
                {"data": {"name": "eOut"}, "mark": {"type": "point", "shape": "circle", "size": 3, "color": "#555", "strokeWidth": 0.4, "filled": false},
                 "encoding": {"y": {"field": "v", "type": "quantitative"}}}
              ]
            }
          ]}
        ]
      }
    ]},
    {"columns": 1, "align": "none", "spacing": 15,
     "resolve": {"scale": {"color": "independent", "stroke": "independent"}, "legend": {"color": "independent", "stroke": "independent"}},
     "concat": [
      {"columns": 2, "align": "none", "spacing": 0,
       "resolve": {"scale": {"color": "independent", "stroke": "independent"}, "legend": {"color": "independent", "stroke": "independent"}},
       "concat": [
        {"width": 1, "height": 1, "data": {"values": [{}]}, "mark": {"type": "rect", "opacity": 0}, "encoding": {}},
        {"columns": 2, "align": "none", "spacing": 76,
         "resolve": {"scale": {"color": "independent", "stroke": "independent"}, "legend": {"color": "independent", "stroke": "independent"}},
         "concat": [
          {
            "title": {"text": "F", "dx": -33, "offset": 6},
            "width": 206, "height": 148.7,
            "data": {"name": "F"},
            "encoding": {"y": {"field": "r", "type": "quantitative", "axis": null, "scale": {"domain": [0.498, 6.47], "reverse": true, "nice": false, "zero": false}}},
            "layer": [
              {"mark": {"type": "bar", "orient": "horizontal", "size": 19.5},
               "encoding": {
                 "x": {"field": "score", "type": "quantitative", "stack": null, "scale": {"domain": [-0.269, 0.352], "nice": false, "zero": false},
                       "axis": {"values": [-0.2,-0.1,0,0.1,0.2,0.3], "format": ".1f", "labelFontSize": 5.3, "title": "ssGSEA Scores", "titleFontSize": 7, "tickSize": 2.5, "labelPadding": 1.5, "titlePadding": 2}},
                 "color": {"field": "grp", "type": "nominal",
                           "scale": {"domain": ["SETDB1 High (SH)","SETDB1 Low (SL)","High ns","Low ns"], "range": ["#E64A36","#13A4E9","#D99B96","#8CC4E0"]},
                           "legend": {"orient": "none", "legendX": 17, "legendY": -18, "title": null, "values": ["SETDB1 High (SH)","SETDB1 Low (SL)"], "symbolType": "square", "symbolSize": 60, "labelFontSize": 6.3, "columnPadding": 14, "direction": "horizontal"}}
               }},
              {"transform": [{"filter": "datum.score >= 0"}], "mark": {"type": "text", "align": "right", "dx": -2, "fontSize": 6.5, "color": "#222"}, "encoding": {"x": {"datum": 0}, "text": {"field": "name"}}},
              {"transform": [{"filter": "datum.score < 0"}], "mark": {"type": "text", "align": "left", "dx": 2, "fontSize": 6.5, "color": "#222"}, "encoding": {"x": {"datum": 0}, "text": {"field": "name"}}}
            ]
          },
          {
            "title": {"text": "G", "orient": "left", "angle": 0, "anchor": "end", "frame": "bounds", "align": "right", "baseline": "top", "offset": 2, "dy": -8},
            "width": 190, "height": 151.7,
            "layer": [
              {"data": {"name": "gBox"},
               "encoding": {"x": {"field": "c", "type": "nominal", "scale": {"domain": ["NON- Responder","Responder"], "paddingInner": 0, "paddingOuter": 0.107},
                                  "axis": {"title": null, "labelAngle": 0, "labelFontSize": 7.8, "labelColor": "#222", "tickSize": 2, "labelPadding": 0, "labelLineHeight": 14,
                                           "labelExpr": "datum.value == 'NON- Responder' ? ['NON- Responder', 'n=66'] : ['Responder', 'n=86']"}}},
               "layer": [
                 {"mark": {"type": "rule", "strokeWidth": 0.8},
                  "encoding": {"y": {"field": "lo", "type": "quantitative", "scale": {"domain": [6.116, 10.73], "nice": false, "zero": false},
                                     "axis": {"values": [7,8,9,10], "title": "SETDB1 expression", "titleFontSize": 8.5, "labelFontSize": 7, "tickSize": 2.5, "labelPadding": 1, "titlePadding": 2}},
                               "y2": {"field": "hi"},
                               "stroke": {"field": "c", "type": "nominal", "scale": {"domain": ["NON- Responder","Responder"], "range": ["#21A883","#3E5592"]},
                                          "legend": {"orient": "none", "legendX": 17, "legendY": -17, "title": "risk", "titleOrient": "left", "direction": "horizontal", "symbolType": "M-1,-0.7H1V0.7H-1Z M-1,0H1 M0,-1V-0.7 M0,0.7V1", "symbolSize": 40, "symbolStrokeWidth": 0.9, "symbolFillColor": "transparent", "labelFontSize": 7.8, "titleFontSize": 8, "titleFontWeight": "normal", "columnPadding": 6, "titlePadding": 4}}}},
                 {"mark": {"type": "bar", "width": {"band": 0.8}, "fill": "white", "fillOpacity": 0, "strokeWidth": 0.9, "strokeOpacity": 0.7},
                  "encoding": {"y": {"field": "q1", "type": "quantitative"}, "y2": {"field": "q3"}, "stroke": {"field": "c", "type": "nominal"}}},
                 {"mark": {"type": "bar", "width": {"band": 0.8}, "fill": "white", "fillOpacity": 0, "strokeWidth": 1.1},
                  "encoding": {"y": {"field": "med", "type": "quantitative"}, "y2": {"field": "med"}, "stroke": {"field": "c", "type": "nominal"}}},
                 {"mark": {"type": "rule", "color": "#666", "strokeWidth": 0.7},
                  "encoding": {"y": {"datum": 10.42}, "y2": {"datum": 10.53}}}
               ]},
              {"data": {"values": [{}]}, "mark": {"type": "rule", "color": "#666", "strokeWidth": 0.7},
               "encoding": {"x": {"datum": "NON- Responder", "type": "nominal", "scale": {"domain": ["NON- Responder","Responder"], "paddingInner": 0, "paddingOuter": 0.107}, "axis": null},
                            "x2": {"datum": "Responder"}, "y": {"datum": 10.53}}},
              {"data": {"name": "gPts"}, "mark": {"type": "circle", "size": 5, "opacity": 1},
               "encoding": {"x": {"field": "c", "type": "nominal", "scale": {"domain": ["NON- Responder","Responder"], "paddingInner": 0, "paddingOuter": 0.107}, "axis": null},
                            "xOffset": {"field": "j", "type": "quantitative", "scale": {"domain": [-129.5, 129.5]}},
                            "y": {"field": "v", "type": "quantitative"},
                            "color": {"field": "c", "type": "nominal", "scale": {"domain": ["NON- Responder","Responder"], "range": ["#21A883","#3E5592"]}, "legend": null}}},
              {"data": {"values": [{}]}, "mark": {"type": "text", "fontSize": 7.5, "baseline": "bottom", "color": "#222"},
               "encoding": {"x": {"datum": "Responder", "type": "nominal", "scale": {"domain": ["NON- Responder","Responder"], "paddingInner": 0, "paddingOuter": 0.107}, "axis": null},
                            "xOffset": {"datum": -129.5, "type": "quantitative", "scale": {"domain": [-129.5, 129.5]}},
                            "y": {"datum": 10.57}, "text": {"value": "0.018"}}}
            ],
            "resolve": {"scale": {"x": "independent", "xOffset": "independent"}}
          }
        ]}
      ]},
      {"columns": 2, "align": "none", "spacing": 4,
       "resolve": {"scale": {"color": "independent", "stroke": "independent"}, "legend": {"color": "independent", "stroke": "independent"}},
       "concat": [
        {"width": 1, "height": 1, "data": {"values": [{}]}, "mark": {"type": "rect", "opacity": 0}, "encoding": {}},
        {"columns": 2, "align": "none", "spacing": 17,
         "resolve": {"scale": {"color": "independent", "stroke": "independent"}, "legend": {"color": "independent", "stroke": "independent"}},
         "concat": [
          {
            "title": {"text": "H", "dx": -36, "offset": 10},
            "width": 222.7, "height": 168.6,
            "data": {"name": "H"},
            "encoding": {"y": {"field": "r", "type": "quantitative", "axis": null, "scale": {"domain": [-0.132, 12.59], "reverse": true, "nice": false, "zero": false}}},
            "layer": [
              {"mark": {"type": "bar", "orient": "horizontal", "size": 10},
               "encoding": {
                 "x": {"field": "score", "type": "quantitative", "stack": null, "scale": {"domain": [-0.1695, 0.3035], "nice": false, "zero": false},
                       "axis": {"values": [-0.1,0,0.1,0.2,0.3], "format": ".1f", "labelFontSize": 5.5, "title": "ssGSEA Scores", "titleFontSize": 7, "tickSize": 2.5, "labelPadding": 1.5, "titlePadding": 1}},
                 "color": {"field": "grp", "type": "nominal",
                           "scale": {"domain": ["SETDB1 High (SH)","SETDB1 Low (SL)","High ns","Low ns"], "range": ["#E64A36","#13A4E9","#D99B96","#8CC4E0"]},
                           "legend": {"orient": "none", "legendX": 9, "legendY": -9, "title": null, "values": ["SETDB1 High (SH)","SETDB1 Low (SL)"], "symbolType": "square", "symbolSize": 70, "labelFontSize": 6.9, "columnPadding": 14, "direction": "horizontal"}}
               }},
              {"transform": [{"filter": "datum.score >= 0"}], "mark": {"type": "text", "align": "right", "dx": -2, "fontSize": 7, "color": "#222"}, "encoding": {"x": {"datum": 0}, "text": {"field": "name"}}},
              {"transform": [{"filter": "datum.score < 0"}], "mark": {"type": "text", "align": "left", "dx": 2, "fontSize": 7, "color": "#222"}, "encoding": {"x": {"datum": 0}, "text": {"field": "name"}}}
            ]
          },
          {
            "title": {"text": "I", "orient": "left", "angle": 0, "anchor": "end", "frame": "bounds", "align": "right", "baseline": "top", "offset": 2, "dy": -16},
            "width": 187, "height": 160.6,
            "layer": [
              {"data": {"name": "iBox"},
               "encoding": {"x": {"field": "c", "type": "nominal", "scale": {"domain": ["Responder","Non- Responder"], "paddingInner": 0, "paddingOuter": 0.1},
                                  "axis": {"title": null, "labelAngle": 0, "labelFontSize": 7.8, "labelColor": "#222", "tickSize": 2, "labelPadding": 0, "labelLineHeight": 14,
                                           "labelExpr": "datum.value == 'Responder' ? ['Responder', 'n=21'] : ['Non- Responder', 'n=46']"}}},
               "layer": [
                 {"mark": {"type": "rule", "strokeWidth": 0.8},
                  "encoding": {"y": {"field": "lo", "type": "quantitative", "scale": {"domain": [46, 922], "nice": false, "zero": false},
                                     "axis": {"values": [250,500,750], "title": "SETDB1 expression", "titleFontSize": 8.5, "labelFontSize": 7, "tickSize": 2.5, "labelPadding": 1, "titlePadding": 2}},
                               "y2": {"field": "hi"},
                               "stroke": {"field": "c", "type": "nominal", "scale": {"domain": ["Responder","Non- Responder"], "range": ["#21A883","#3E5592"]},
                                          "legend": {"orient": "none", "legendX": 17, "legendY": -18, "title": "risk", "titleOrient": "left", "direction": "horizontal", "symbolType": "M-1,-0.7H1V0.7H-1Z M-1,0H1 M0,-1V-0.7 M0,0.7V1", "symbolSize": 40, "symbolStrokeWidth": 0.9, "symbolFillColor": "transparent", "labelFontSize": 7.8, "titleFontSize": 8, "titleFontWeight": "normal", "columnPadding": 6, "titlePadding": 4}}}},
                 {"mark": {"type": "bar", "width": {"band": 0.8}, "fill": "white", "fillOpacity": 0, "strokeWidth": 0.9, "strokeOpacity": 0.7},
                  "encoding": {"y": {"field": "q1", "type": "quantitative"}, "y2": {"field": "q3"}, "stroke": {"field": "c", "type": "nominal"}}},
                 {"mark": {"type": "bar", "width": {"band": 0.8}, "fill": "white", "fillOpacity": 0, "strokeWidth": 1.1},
                  "encoding": {"y": {"field": "med", "type": "quantitative"}, "y2": {"field": "med"}, "stroke": {"field": "c", "type": "nominal"}}},
                 {"mark": {"type": "rule", "color": "#666", "strokeWidth": 0.7},
                  "encoding": {"y": {"datum": 862}, "y2": {"datum": 886}}}
               ]},
              {"data": {"values": [{}]}, "mark": {"type": "rule", "color": "#666", "strokeWidth": 0.7},
               "encoding": {"x": {"datum": "Responder", "type": "nominal", "scale": {"domain": ["Responder","Non- Responder"], "paddingInner": 0, "paddingOuter": 0.1}, "axis": null},
                            "x2": {"datum": "Non- Responder"}, "y": {"datum": 886}}},
              {"data": {"name": "iPts"}, "mark": {"type": "circle", "size": 5, "opacity": 1},
               "encoding": {"x": {"field": "c", "type": "nominal", "scale": {"domain": ["Responder","Non- Responder"], "paddingInner": 0, "paddingOuter": 0.1}, "axis": null},
                            "xOffset": {"field": "j", "type": "quantitative", "scale": {"domain": [-127.5, 127.5]}},
                            "y": {"field": "v", "type": "quantitative"},
                            "color": {"field": "c", "type": "nominal", "scale": {"domain": ["Responder","Non- Responder"], "range": ["#21A883","#3E5592"]}, "legend": null}}},
              {"data": {"values": [{}]}, "mark": {"type": "text", "fontSize": 7.5, "baseline": "bottom", "color": "#222"},
               "encoding": {"x": {"datum": "Non- Responder", "type": "nominal", "scale": {"domain": ["Responder","Non- Responder"], "paddingInner": 0, "paddingOuter": 0.1}, "axis": null},
                            "xOffset": {"datum": -127.5, "type": "quantitative", "scale": {"domain": [-127.5, 127.5]}},
                            "y": {"datum": 893}, "text": {"value": "0.52"}}}
            ],
            "resolve": {"scale": {"x": "independent", "xOffset": "independent"}}
          }
        ]}
      ]}
    ]}
  ]}
]
}
